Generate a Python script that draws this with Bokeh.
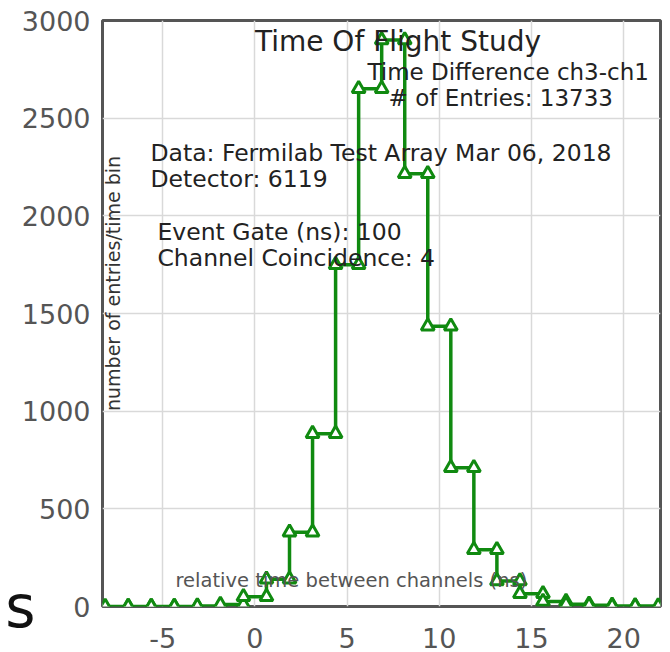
from bokeh.plotting import figure
from bokeh.models import (Range1d, Label, FixedTicker, ColumnDataSource,
                          PrintfTickFormatter, LinearAxis)
from bokeh.embed import file_html
from bokeh.resources import INLINE

# ---- data ----
bin_edges = [-8.125, -6.875, -5.625, -4.375, -3.125, -1.875, -0.625, 0.625,
             1.875, 3.125, 4.375, 5.625, 6.875, 8.125, 9.375, 10.625,
             11.875, 13.125, 14.375, 15.625, 16.875, 18.125, 19.375,
             20.625, 21.875]
counts = [0, 0, 0, 0, 2, 10, 50, 140, 380, 885, 1750, 2650, 2900, 2215,
          1435, 710, 290, 130, 65, 25, 12, 6, 3, 2]

x_ticks = [-5, 0, 5, 10, 15, 20]
y_ticks = [0, 500, 1000, 1500, 2000, 2500, 3000]

title_text = "Time Of Flight Study"
info_right = ["Time Difference ch3-ch1", "# of Entries: 13733"]
info_left_a = ["Data: Fermilab Test Array Mar 06, 2018", "Detector: 6119"]
info_left_b = ["Event Gate (ns): 100", "Channel Coincidence: 4"]
x_label_text = "relative time between channels (ns)"
y_label_text = "number of entries/time bin"
stray_text = "s"

# ---- build step outline from the bins ----
xs, ys = [], []
for i, c in enumerate(counts):
    xs += [bin_edges[i], bin_edges[i + 1]]
    ys += [c, c]
src = ColumnDataSource(dict(x=xs, y=ys))

FONT = "DejaVu Sans"
GREEN = "#108a10"

p = figure(width=670, height=652,
           x_range=Range1d(-8.27, 22.0), y_range=Range1d(0, 3000),
           output_backend="svg", toolbar_location=None,
           min_border_left=102, min_border_right=10,
           min_border_top=20, min_border_bottom=46)

p.outline_line_color = "#555555"
p.outline_line_width = 3
p.background_fill_color = "white"
p.border_fill_color = "white"

p.xaxis.ticker = FixedTicker(ticks=x_ticks)
p.yaxis.ticker = FixedTicker(ticks=y_ticks)
p.xaxis.formatter = PrintfTickFormatter(format="%d")
for ax in (p.xaxis, p.yaxis):
    ax.axis_line_color = None
    ax.major_tick_line_color = None
    ax.minor_tick_line_color = None
    ax.major_tick_out = 0
    ax.major_tick_in = 0
    ax.major_label_text_font = FONT
    ax.major_label_text_color = "#555555"
    ax.major_label_text_font_size = "27px"
p.xaxis.major_label_standoff = 21
p.yaxis.major_label_standoff = 12

# outer left axis that only carries the stray large "s" seen at bottom-left
ax2 = LinearAxis(ticker=FixedTicker(ticks=[]), axis_label=stray_text,
                 axis_label_orientation="horizontal",
                 axis_label_standoff=-17,
                 axis_label_text_font=FONT,
                 axis_label_text_font_size="58px",
                 axis_label_text_font_style="normal",
                 axis_label_text_color="#111111",
                 axis_line_color=None, major_tick_line_color=None,
                 minor_tick_line_color=None, major_tick_out=0,
                 major_tick_in=0, minor_tick_out=0, major_label_standoff=0,
                 major_label_text_font_size="0px")
if "axis_label_align" in LinearAxis.properties():
    ax2.axis_label_align = "start"
p.add_layout(ax2, "left")

p.xgrid.grid_line_color = "#d9d9d9"
p.ygrid.grid_line_color = "#d9d9d9"
p.xgrid.grid_line_width = 1.5
p.ygrid.grid_line_width = 1.5

p.line("x", "y", source=src, line_color=GREEN, line_width=3.5)
p.scatter("x", "y", source=src, marker="triangle", size=13,
          line_color=GREEN, line_width=3, fill_color="white")

def add_label(x, y, text, size, color="#222222", align="left",
              baseline="middle", angle=0.0):
    p.add_layout(Label(x=x, y=y, text=text, text_font=FONT,
                       text_font_size=size, text_color=color,
                       text_align=align, text_baseline=baseline,
                       angle=angle))

add_label(0.0, 2890, title_text, "28px")
add_label(6.1, 2734, info_right[0], "23px")
add_label(7.25, 2601, info_right[1], "23px")
add_label(-5.67, 2320, info_left_a[0], "23.5px")
add_label(-5.67, 2191, info_left_a[1], "23.5px")
add_label(-5.29, 1915, info_left_b[0], "23.5px")
add_label(-5.29, 1782, info_left_b[1], "23.5px")
add_label(-4.31, 133, x_label_text, "19.5px", color="#555555")
add_label(-7.72, 1654, y_label_text, "19px", color="#333333",
          align="center", angle=1.5708)

open("out.html", "w").write(file_html(p, INLINE))
